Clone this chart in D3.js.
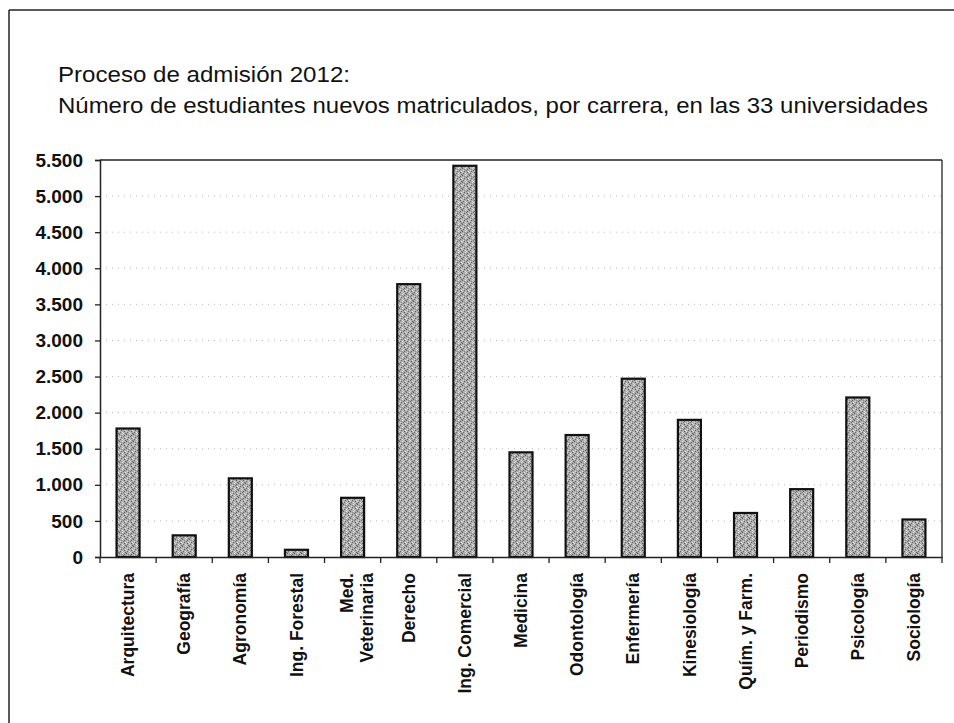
<!DOCTYPE html>
<html><head><meta charset="utf-8">
<script src="https://cdn.jsdelivr.net/npm/d3@7"></script>
<style>body{margin:0;background:#fff}svg{display:block}</style>
</head><body>
<script>
const categories = ["Arquitectura","Geografía","Agronomía","Ing. Forestal","Med.|Veterinaria","Derecho","Ing. Comercial","Medicina","Odontología","Enfermería","Kinesiología","Quím. y Farm.","Periodismo","Psicología","Sociología"];
const values = [1780,300,1090,100,820,3780,5420,1450,1690,2470,1900,610,940,2210,520];
const yTicks = [0,500,1000,1500,2000,2500,3000,3500,4000,4500,5000,5500];
const titleLines = ["Proceso de admisión 2012:","Número de estudiantes nuevos matriculados, por carrera, en las 33 universidades"];

const W=954,H=723;
const svg=d3.select("body").append("svg").attr("width",W).attr("height",H);
const m={l:100,r:942,t:160,b:557};
const FONT="Liberation Sans, Arial, sans-serif";

// outer frame
svg.append("line").attr("x1",9).attr("x2",W).attr("y1",10).attr("y2",10).attr("stroke","#222").attr("stroke-width",1.5);
svg.append("line").attr("x1",9).attr("x2",9).attr("y1",10).attr("y2",H).attr("stroke","#222").attr("stroke-width",1.5);

// title
svg.selectAll("text.title").data(titleLines).join("text").attr("class","title")
  .attr("x",58).attr("y",(d,i)=>82+i*31)
  .attr("font-family",FONT).attr("font-size",22)
  .attr("fill","#111")
  .attr("textLength",(d,i)=>i===0?292:870).attr("lengthAdjust","spacingAndGlyphs")
  .text(d=>d);

const x=d3.scaleBand().domain(categories).range([m.l,m.r]).paddingInner(0.59).paddingOuter(0.295);
const y=d3.scaleLinear().domain([0,5500]).range([m.b,m.t]);

// gridlines (faint dotted)
svg.append("g").selectAll("line").data(yTicks.filter(d=>d>0&&d<5500)).join("line")
  .attr("x1",m.l).attr("x2",m.r).attr("y1",d=>y(d)).attr("y2",d=>y(d))
  .attr("stroke","#bbb").attr("stroke-width",1).attr("stroke-dasharray","1,5");

// plot frame top & right
svg.append("line").attr("x1",m.l).attr("x2",m.r).attr("y1",m.t).attr("y2",m.t).attr("stroke","#222").attr("stroke-width",1.3);
svg.append("line").attr("x1",m.r).attr("x2",m.r).attr("y1",m.t).attr("y2",m.b).attr("stroke","#222").attr("stroke-width",1.3);

// stipple pattern (fixed, irregular dot layout)
const defs=svg.append("defs");
const pat=defs.append("pattern").attr("id","stip").attr("width",7).attr("height",7).attr("patternUnits","userSpaceOnUse");
pat.append("rect").attr("width",7).attr("height",7).attr("fill","#aeaeae");
const dots=[[0,0,"#5a5a5a"],[3,0,"#e2e2e2"],[5,1,"#666"],[1,2,"#dcdcdc"],[4,2,"#707070"],[6,3,"#e6e6e6"],
  [2,3,"#606060"],[0,4,"#d8d8d8"],[5,4,"#5e5e5e"],[3,5,"#e0e0e0"],[1,5,"#686868"],[6,6,"#6a6a6a"],[4,6,"#dadada"],[2,1,"#8a8a8a"],[0,6,"#909090"]];
dots.forEach(p=>pat.append("rect").attr("x",p[0]).attr("y",p[1]).attr("width",1).attr("height",1).attr("fill",p[2]));

// bars
svg.append("g").selectAll("rect").data(values).join("rect")
  .attr("x",(d,i)=>x(categories[i])).attr("width",x.bandwidth())
  .attr("y",d=>y(d)).attr("height",d=>y(0)-y(d))
  .attr("fill","url(#stip)").attr("stroke","#111").attr("stroke-width",2.2);

// y axis
const ya=svg.append("g").attr("transform",`translate(${m.l},0)`)
  .call(d3.axisLeft(y).tickValues(yTicks).tickSize(5).tickPadding(12).tickFormat(d=>d3.format(",")(d).replace(/,/g,".")));
ya.select(".domain").attr("stroke","#222").attr("stroke-width",1.5);
ya.selectAll(".tick line").attr("stroke","#222").attr("stroke-width",1.3);
ya.selectAll("text").attr("font-family",FONT).attr("font-weight","bold").attr("font-size",19).attr("fill","#111");

// x axis
const xa=svg.append("g").attr("transform",`translate(0,${m.b})`)
  .call(d3.axisBottom(x).tickSize(0).tickFormat(""));
xa.select(".domain").attr("stroke","#222").attr("stroke-width",1.5);
const bounds=d3.range(categories.length+1).map(i=>m.l+i*(m.r-m.l)/categories.length);
xa.selectAll("line.sep").data(bounds).join("line").attr("class","sep")
  .attr("x1",d=>d).attr("x2",d=>d).attr("y1",0).attr("y2",6).attr("stroke","#222").attr("stroke-width",1.3);

// x labels
const lab=svg.append("g").selectAll("text").data(categories).join("text")
  .attr("transform",d=>`translate(${x(d)+x.bandwidth()/2},573) rotate(-90)`)
  .attr("text-anchor","end")
  .attr("font-family",FONT).attr("font-weight","bold").attr("font-size",17.5).attr("fill","#111");
lab.each(function(d){
  const parts=d.split("|");
  const t=d3.select(this);
  parts.forEach((p,i)=>{
    t.append("tspan").attr("x",0).attr("dy",i===0?(parts.length>1?"0.02em":"0.35em"):"1.12em").text(p);
  });
});
</script>
</body></html>
